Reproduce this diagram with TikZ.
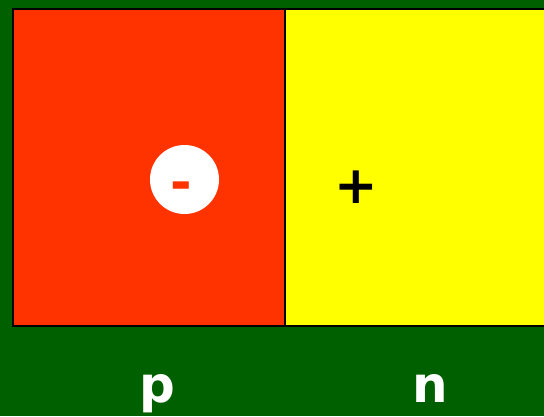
\documentclass[tikz,border=0pt]{standalone}
\usepackage{fontspec}
\setmainfont{DejaVu Sans}
\definecolor{bggreen}{HTML}{006000}
\definecolor{pred}{HTML}{FF3300}
\definecolor{nyellow}{HTML}{FFFF00}
\begin{document}
\begin{tikzpicture}[x=1pt,y=1pt,
  region/.style={draw=black,line width=2pt},
  lbl/.style={text=white,font=\fontsize{50}{50}\selectfont\bfseries,inner sep=0pt,anchor=base},
  chg/.style={font=\fontsize{52}{52}\selectfont\bfseries,inner sep=0pt}]
\fill[bggreen] (0,0) rectangle (544,416);
\useasboundingbox (0,0) rectangle (544,416);
\path[region,fill=pred] (13,90) rectangle (285,407);
\path[region,fill=nyellow] (285,90) rectangle (560,407);
\node[circle,fill=white,minimum size=69pt,inner sep=0pt] (hole) at (184.5,236.5) {};
\node[chg,text=pred] (minus) at (181,225) {-};
\node[chg,text=black] (plus) at (356,229) {+};
\node[lbl] (p) at (157,14) {p};
\node[lbl] (n) at (430,14) {n};
\end{tikzpicture}
\end{document}
